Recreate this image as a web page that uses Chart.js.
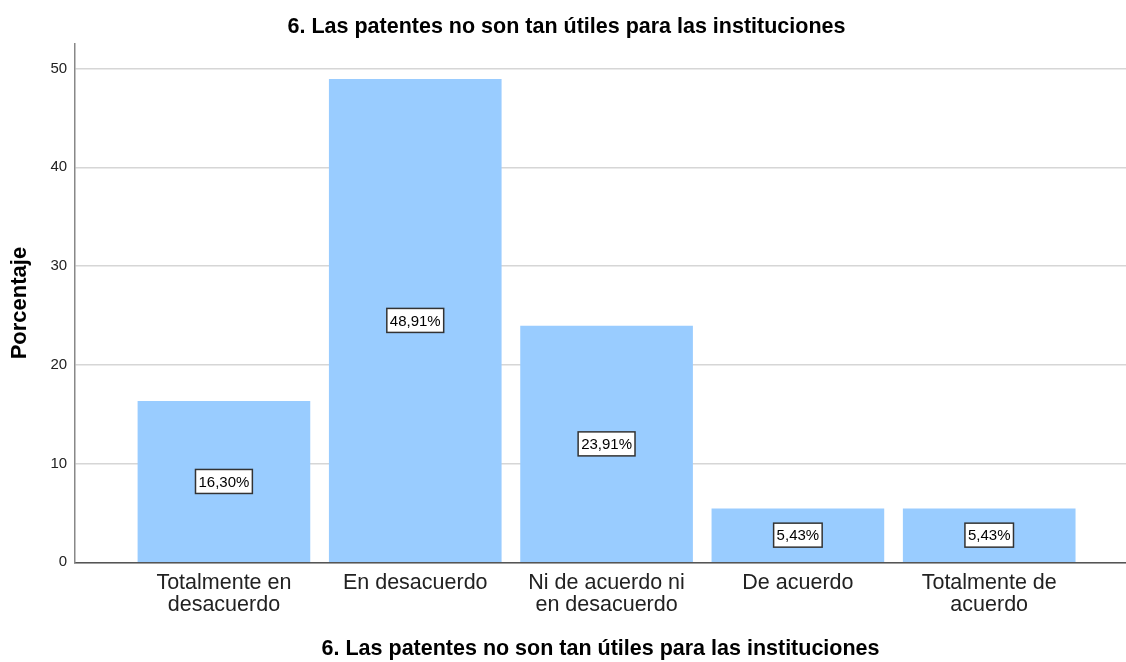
<!DOCTYPE html>
<html>
<head>
<meta charset="utf-8">
<script src="https://cdn.jsdelivr.net/npm/chart.js@4/dist/chart.umd.min.js"></script>
<style>
    html, body { margin: 0; padding: 0; background: #fff; }
    #wrap { width: 1126px; height: 662px; }
</style>
</head>
<body>
<div id="wrap"><canvas id="chart"></canvas></div>
<script>
// Datos del gráfico
const categorias = [
    ['Totalmente en', 'desacuerdo'],
    'En desacuerdo',
    ['Ni de acuerdo ni', 'en desacuerdo'],
    'De acuerdo',
    ['Totalmente de', 'acuerdo']
];
const porcentajes = [16.30, 48.91, 23.91, 5.43, 5.43];
const etiquetas = ['16,30%', '48,91%', '23,91%', '5,43%', '5,43%'];
const ticksY = [0, 10, 20, 30, 40, 50];

const titulo = '6. Las patentes no son tan útiles para las instituciones';
const fuente = "'Liberation Sans', Arial, sans-serif";

// Caja con el porcentaje en el centro de cada barra
const etiquetasBarras = {
    id: 'etiquetasBarras',
    afterDatasetsDraw(chart) {
        const ctx = chart.ctx;
        const meta = chart.getDatasetMeta(0);
        ctx.save();
        ctx.font = '15px ' + fuente;
        ctx.textAlign = 'center';
        ctx.textBaseline = 'middle';
        meta.data.forEach((bar, i) => {
            const texto = etiquetas[i];
            const yMedio = (bar.y + bar.base) / 2;
            const w = ctx.measureText(texto).width + 6;
            const h = 24;
            ctx.fillStyle = '#fff';
            ctx.fillRect(bar.x - w / 2, yMedio - h / 2, w, h);
            ctx.strokeStyle = '#333';
            ctx.lineWidth = 1.5;
            ctx.strokeRect(bar.x - w / 2, yMedio - h / 2, w, h);
            ctx.fillStyle = '#000';
            ctx.fillText(texto, bar.x, yMedio + 1);
        });
        ctx.restore();
    }
};

new Chart(document.getElementById('chart'), {
    type: 'bar',
    data: {
        datasets: [{
            data: porcentajes.map((v, i) => ({ x: i, y: v })),
            backgroundColor: '#99ccff',
            borderWidth: 0,
            barThickness: 172
        }]
    },
    options: {
        responsive: true,
        maintainAspectRatio: false,
        animation: false,
        layout: { padding: { left: 7, right: 0, top: 0, bottom: 0 } },
        plugins: {
            legend: { display: false },
            tooltip: { enabled: false },
            title: {
                display: true,
                text: titulo,
                color: '#000',
                font: { family: fuente, size: 21.5, weight: 'bold' },
                padding: { top: 14, bottom: 4 }
            }
        },
        scales: {
            x: {
                type: 'linear',
                offset: false,
                min: -0.778,
                max: 4.715,
                grid: { display: false },
                border: { color: '#555', width: 1.5 },
                ticks: {
                    stepSize: 1,
                    includeBounds: false,
                    autoSkip: false,
                    maxRotation: 0,
                    color: '#222',
                    padding: 2,
                    font: { family: fuente, size: 21.5, lineHeight: 1.02 },
                    callback: (v) => categorias[v]
                },
                title: {
                    display: true,
                    text: titulo,
                    color: '#000',
                    font: { family: fuente, size: 21.5, weight: 'bold' },
                    padding: { top: 18, bottom: 0 }
                }
            },
            y: {
                min: 0,
                max: 52.5,
                grid: { color: '#d6d6d6', lineWidth: 1.5, drawTicks: false },
                border: { color: '#888', width: 1.5 },
                afterBuildTicks: (axis) => { axis.ticks = ticksY.map(v => ({ value: v })); },
                ticks: {
                    color: '#222',
                    padding: 8,
                    font: { family: fuente, size: 15 }
                },
                title: {
                    display: true,
                    text: 'Porcentaje',
                    color: '#000',
                    font: { family: fuente, size: 22, weight: 'bold' },
                    padding: { top: 0, bottom: 9 }
                }
            }
        }
    },
    plugins: [etiquetasBarras]
});
</script>
</body>
</html>
